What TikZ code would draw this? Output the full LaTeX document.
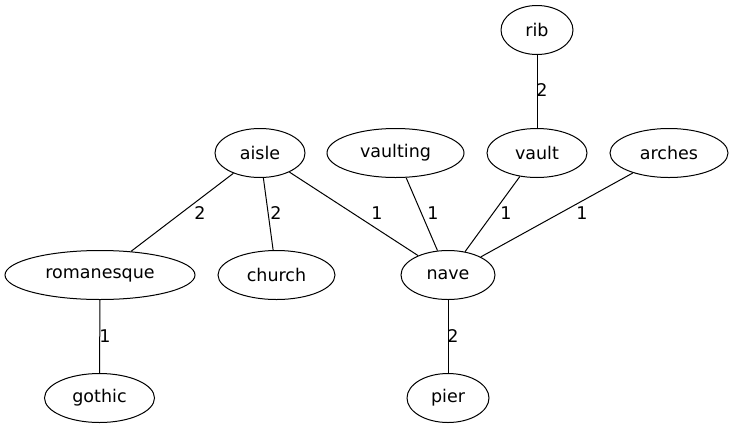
\documentclass[tikz,border=0pt]{standalone}
\usepackage{fontspec}
\setmainfont{DejaVu Sans}
\usetikzlibrary{shapes.geometric}
\begin{document}
\begin{tikzpicture}[x=1pt,y=-1pt,
  nd/.style={draw,ellipse,line width=1pt,inner sep=0pt,minimum height=49pt,font=\fontsize{17.5}{20}\selectfont},
  lbl/.style={inner sep=0pt,font=\fontsize{17.5}{20}\selectfont},
  edge/.style={line width=1pt}]
\useasboundingbox (0,0) rectangle (733,429);
\node[nd,minimum width=72pt]  (rib)        at (537,30)  {rib};
\node[nd,minimum width=90pt]  (aisle)      at (260,153) {aisle};
\node[nd,minimum width=137pt] (vaulting)   at (395.5,153) {vaulting};
\node[nd,minimum width=100pt] (vault)      at (537,153) {vault};
\node[nd,minimum width=118pt] (arches)     at (669,153) {arches};
\node[nd,minimum width=190pt] (romanesque) at (100,275) {romanesque};
\node[nd,minimum width=117pt] (church)     at (276.5,275) {church};
\node[nd,minimum width=94pt]  (nave)       at (448,275) {nave};
\node[nd,minimum width=110pt] (gothic)     at (99.5,398) {gothic};
\node[nd,minimum width=82pt]  (pier)       at (448,398) {pier};
\draw[edge] (rib) -- (vault);
\draw[edge] (aisle) -- (romanesque);
\draw[edge] (aisle) -- (church);
\draw[edge] (aisle) -- (nave);
\draw[edge] (vaulting) -- (nave);
\draw[edge] (vault) -- (nave);
\draw[edge] (arches) -- (nave);
\draw[edge] (romanesque) -- (gothic);
\draw[edge] (nave) -- (pier);
\node[lbl] (l1) at (542,90)  {2};
\node[lbl] (l2) at (200,213) {2};
\node[lbl] (l3) at (276,213) {2};
\node[lbl] (l4) at (377,213) {1};
\node[lbl] (l5) at (433,213) {1};
\node[lbl] (l6) at (506,213) {1};
\node[lbl] (l7) at (582,213) {1};
\node[lbl] (l8) at (105,336) {1};
\node[lbl] (l9) at (453,336) {2};
\end{tikzpicture}
\end{document}
